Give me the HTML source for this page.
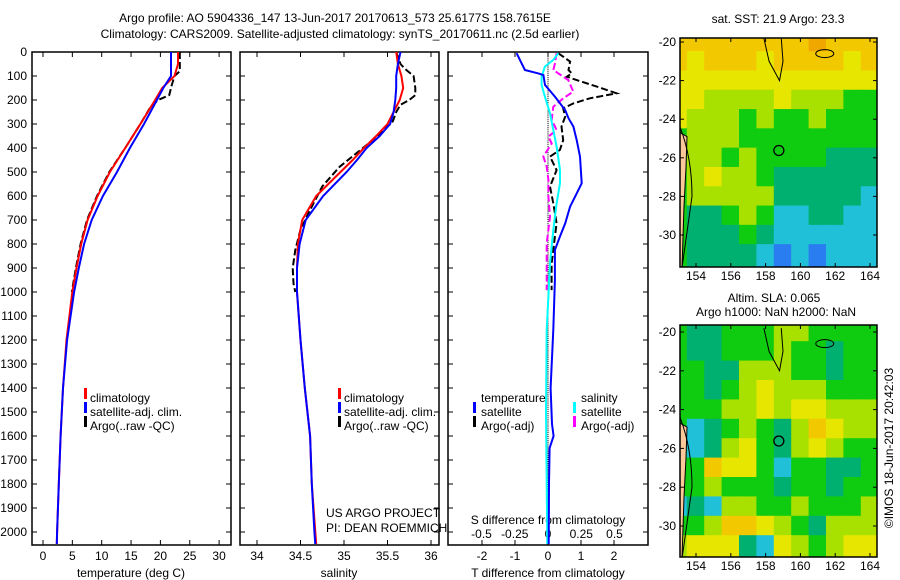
<!DOCTYPE html>
<html><head><meta charset="utf-8"><style>
body{margin:0;background:#fff;}
svg{display:block;font-family:"Liberation Sans",sans-serif;font-size:12px;}
</style></head><body>
<svg id="c" width="900" height="580" viewBox="0 0 900 580" xmlns="http://www.w3.org/2000/svg">
<text x="335" y="22" text-anchor="middle">Argo profile: AO 5904336_147 13-Jun-2017 20170613_573 25.6177S 158.7615E</text>
<text x="340" y="38" text-anchor="middle">Climatology: CARS2009. Satellite-adjusted climatology: synTS_20170611.nc (2.5d earlier)</text>
<g id="g"></g>
</svg>
<script>
// ---- profile data (depth in dbar) ----
const tDepth=[0,50,100,150,200,300,400,500,600,700,800,900,1000,1200,1400,1600,1800,2000,2050];
const tClim=[23,23,22.4,20.3,19.1,16.6,14,11.4,9.3,7.6,6.5,5.7,5.0,4.0,3.4,3,2.7,2.4,2.35];
const tSat=[21.8,21.8,21.8,20.5,19.4,17.2,14.8,12.6,10.2,8.3,7.0,6.1,5.3,4.1,3.4,3,2.7,2.4,2.35];
const tArgoDepth=[0,50,80,100,140,180,200,230,300,400,500,600,700,800,900,1000];
const tArgo=[23.3,23.3,23.3,22.4,21.9,21.5,19.6,18.3,16.6,14,11.3,9.2,7.5,6.4,5.6,4.9];
const sDepth=[0,50,100,150,200,250,300,350,400,450,500,600,700,800,900,1000,1200,1400,1600,1800,2000,2050];
const sClim=[35.6,35.62,35.66,35.68,35.64,35.57,35.5,35.37,35.23,35.1,34.96,34.68,34.52,34.47,34.46,34.46,34.5,34.55,34.61,34.63,34.67,34.68];
const sSat=[35.65,35.62,35.6,35.6,35.59,35.57,35.53,35.41,35.26,35.15,35.03,34.76,34.56,34.49,34.46,34.46,34.5,34.55,34.61,34.63,34.66,34.67];
const sArgoDepth=[0,50,70,100,150,180,200,220,250,290,367,478,560,658,740,825,900,964,1000];
const sArgo=[35.6,35.65,35.7,35.8,35.82,35.82,35.75,35.65,35.6,35.56,35.33,34.95,34.75,34.61,34.5,34.44,34.41,34.42,34.44];
const dTDepth=[5,47,75,89,96,137,186,242,276,311,367,436,547,589,644,714,769,825,950,1158,1400,1550,1600,1650,1800,2050];
const dTSat=[-0.95,-0.8,-0.7,-0.29,-0.14,-0.09,0.21,0.52,0.62,0.77,0.87,0.97,1.02,0.87,0.67,0.52,0.36,0.21,0.21,0.16,0.08,0.12,0.17,0.05,0.03,0.02];
const dSDepth=[5,33,61,103,137,186,255,325,394,492,547,631,742,881,1019,1158,1500,2050];
const dSSat=[0.078,0.04,-0.023,-0.048,-0.048,-0.023,0.015,0.04,0.065,0.09,0.09,0.065,0.04,0.015,0.003,-0.01,-0.015,-0.005];
const dTArgoDepth=[5,40,75,89,103,117,144,172,193,214,235,269,311,367,408,436,492,561,631,714,769,825,881,992];
const dTArgo=[0.31,0.67,0.62,0.72,0.57,0.87,1.48,2.08,1.27,0.77,0.46,0.52,0.41,0.46,0.36,0.06,0.26,0.06,0.16,0.26,0.21,0.16,0.11,0.11];
const dSArgoDepth=[5,47,75,89,117,165,193,228,283,325,353,381,436,478,533,603,686,797,881,992];
const dSArgo=[0.065,0.053,0.04,0.078,0.153,0.19,0.115,0.04,0.028,0.065,0.003,0.028,-0.035,-0.01,0.003,0.003,0.015,-0.01,-0.01,-0.01];
const depthTicks=[0,100,200,300,400,500,600,700,800,900,1000,1100,1200,1300,1400,1500,1600,1700,1800,1900,2000];
const tTicks=[0,5,10,15,20,25,30];
const sTicks=[34,34.5,35,35.5,36];
const dTTicks=[-2,-1,0,1,2];
const dSTicks=[-0.5,-0.25,0,0.25,0.5];
const dSTickLabels=["-0.5","-0.25","0","0.25","0.5"];
// ---- map data: rows lat -20..-31, cols lon 153..164 (colour class 0-7) ----
const mapLats=[-20,-21,-22,-23,-24,-25,-26,-27,-28,-29,-30,-31];
const mapLons=[153,154,155,156,157,158,159,160,161,162,163,164];
const sstGrid=[
[6,6,6,6,6,6,6,6,7,6,6,6],[6,5,6,6,6,5,6,6,6,6,5,6],[5,5,5,5,5,5,5,5,5,5,5,5],[5,5,4,4,4,4,5,4,4,4,3,3],
[5,4,4,4,3,4,3,3,4,3,3,3],[3,4,4,4,3,3,3,3,3,3,3,3],[3,4,4,3,4,3,3,3,3,2,2,2],[3,4,5,4,4,3,2,2,2,2,2,2],
[3,4,4,4,4,4,2,2,2,2,2,1],[3,2,2,3,4,3,1,1,2,2,1,1],[3,2,2,2,3,2,1,1,1,1,1,1],[3,2,2,2,2,1,0,1,0,1,1,1]];
const slaGrid=[
[3,2,2,3,3,3,4,4,3,3,3,3],[3,2,2,3,3,3,4,3,3,2,3,3],[3,3,2,2,4,4,4,3,3,2,3,3],[3,3,2,3,4,5,4,4,4,3,3,3],
[3,3,3,4,4,5,4,5,5,4,4,4],[3,1,2,3,4,3,2,4,6,5,4,4],[3,1,2,4,5,3,2,4,5,4,3,3],[3,3,6,5,5,3,1,3,3,2,2,3],
[3,3,4,3,3,3,2,3,3,2,3,3],[1,2,1,4,4,3,3,4,3,3,3,4],[3,3,4,6,6,5,4,3,2,4,4,4],[4,5,5,5,2,1,5,4,3,4,5,5]];
const palette=["#2a7df0","#20c0d8","#00b070","#10cc10","#a8e000","#e6e600","#f2c800","#f0a800"];
const argoLon=158.76, argoLat=-25.62;
const mapLonTicks=[154,156,158,160,162,164];
const mapLatTicks=[-20,-22,-24,-26,-28,-30];

const NS="http://www.w3.org/2000/svg";
const G=document.getElementById('g');
function mk(t,a,p){const e=document.createElementNS(NS,t);for(const k in a)e.setAttribute(k,a[k]);(p||G).appendChild(e);return e;}
const yD=d=>52+d*0.24;
const P1={x0:32,x1:231}, P2={x0:240,x1:439}, P3={x0:448,x1:648};
const xT=v=>43+v*5.87, xS=v=>257+(v-34)*87, xDT=v=>548+v*33, xDS=v=>548+v*133;
function line(xs,ds,fx,col,dash,name){
  let d='';for(let i=0;i<xs.length;i++)d+=(i?'L':'M')+fx(xs[i]).toFixed(1)+','+yD(ds[i]).toFixed(1);
  const e=mk('path',{d:d,fill:'none',stroke:col,'stroke-width':2});
  if(dash)e.setAttribute('stroke-dasharray','7,3');
  
  
}
function frame(P,name){
  const r=mk('rect',{x:P.x0,y:52,width:P.x1-P.x0,height:493,fill:'none',stroke:'#000','stroke-width':1.5});
  
  
  depthTicks.forEach(d=>{mk('line',{x1:P.x0,x2:P.x0+5,y1:yD(d),y2:yD(d),stroke:'#000'});mk('line',{x1:P.x1,x2:P.x1-5,y1:yD(d),y2:yD(d),stroke:'#000'});});
}
function xticks(vals,labs,fx,name){
  vals.forEach((v,i)=>{const x=fx(v);
    mk('line',{x1:x,x2:x,y1:545,y2:540,stroke:'#000'});mk('line',{x1:x,x2:x,y1:52,y2:57,stroke:'#000'});
    const t=mk('text',{x:x,y:560,'text-anchor':'middle'});t.textContent=labs[i];
    
    });
}
function txt(x,y,s,name,anchor){const t=mk('text',{x:x,y:y,'text-anchor':anchor||'start'});t.textContent=s;
  
  return t;}
function legMark(x,y,col){mk('rect',{x:x,y:y-10,width:3,height:11,fill:col});}

// panel 1
frame(P1,'temperature-panel');
depthTicks.forEach(d=>{txt(27,yD(d)+4,String(d),'depth-tick-label','end');});
xticks(tTicks,tTicks.map(String),xT,'temperature-tick-label');
txt(131,577,'temperature (deg C)','temperature-axis-title','middle');
line(tArgo,tArgoDepth,xT,'#000',true,'temperature-argo-line');
line(tClim,tDepth,xT,'#f00',false,'temperature-climatology-line');
line(tSat,tDepth,xT,'#00f',false,'temperature-satellite-line');
legMark(84,398,'#f00');txt(90,402,'climatology','legend-climatology');
legMark(84,412,'#00f');txt(90,416,'satellite-adj. clim.','legend-satellite');
legMark(84,426,'#000');txt(90,430,'Argo(..raw -QC)','legend-argo');

// panel 2
frame(P2,'salinity-panel');
xticks(sTicks,sTicks.map(String),xS,'salinity-tick-label');
txt(339,577,'salinity','salinity-axis-title','middle');
line(sArgo,sArgoDepth,xS,'#000',true,'salinity-argo-line');
line(sClim,sDepth,xS,'#f00',false,'salinity-climatology-line');
line(sSat,sDepth,xS,'#00f',false,'salinity-satellite-line');
legMark(338,398,'#f00');txt(344,402,'climatology','legend-climatology');
legMark(338,412,'#00f');txt(344,416,'satellite-adj. clim.','legend-satellite');
legMark(338,426,'#000');txt(344,430,'Argo(..raw -QC)','legend-argo');
txt(326,517,'US ARGO PROJECT','credit-project');
txt(326,532,'PI: DEAN ROEMMICH','credit-pi');

// panel 3
frame(P3,'difference-panel');
xticks(dTTicks,dTTicks.map(String),xDT,'t-diff-tick-label');
dSTicks.forEach((v,i)=>{txt(xDS(v),538,dSTickLabels[i],'s-diff-tick-label','middle');});
txt(548,524,'S difference from climatology','s-diff-axis-title','middle');
txt(548,577,'T difference from climatology','t-diff-axis-title','middle');
for(let d=0;d<2050;d+=8)mk('line',{x1:548,x2:548,y1:yD(d),y2:yD(d)+1,stroke:'#000'});
line(dTArgo,dTArgoDepth,xDT,'#000',true,'t-diff-argo-line');
line(dSArgo,dSArgoDepth,xDS,'#f0f',true,'s-diff-argo-line');
line(dSSat,dSDepth,xDS,'#0ff',false,'s-diff-satellite-line');
line(dTSat,dTDepth,xDT,'#00f',false,'t-diff-satellite-line');
txt(481,402,'temperature','legend-temperature-header');
legMark(473,412,'#00f');txt(481,416,'satellite','legend-t-satellite');
legMark(473,426,'#000');txt(481,430,'Argo(-adj)','legend-t-argo');
txt(581,402,'salinity','legend-salinity-header');
legMark(573,412,'#0ff');txt(581,416,'satellite','legend-s-satellite');
legMark(573,426,'#f0f');txt(581,430,'Argo(-adj)','legend-s-argo');

// maps
function map(y0,y1,latTop,latStep,grid,name){
  const x0=680,x1=877;
  const fx=l=>696+(l-154)*17.4, fy=l=>latTop+(-20-l)*latStep;
  const g=mk('g',{});
  const clip=mk('clipPath',{id:name+'-clip'});mk('rect',{x:x0,y:y0,width:x1-x0,height:y1-y0},clip);
  const cg=mk('g',{'clip-path':'url(#'+name+'-clip)'},g);
  grid.forEach((row,ri)=>row.forEach((c,ci)=>{
    const lat=mapLats[ri],lon=mapLons[ci];
    const r=mk('rect',{x:fx(lon-0.5)-0.5,y:fy(lat+0.5)-0.5,width:18.4,height:latStep+(ri===grid.length-1?8:1),fill:palette[c]},cg);
    
    
  }));
  mk('path',{d:`M${x0},${fy(-24.7)} L${x0+7},${fy(-24.9)} L${x0+6},${fy(-26.5)} L${x0+4},${fy(-28.5)} L${x0+2},${fy(-31.7)} L${x0},${fy(-31.7)}Z`,fill:'#fbc89a',stroke:'#000','stroke-width':1},cg);
  mk('path',{d:`M${x0},${fy(-24.4)} Q${x0+12},${fy(-26)} ${x0+12},${fy(-28)} L${x0+2},${fy(-31.7)}`,fill:'none',stroke:'#000','stroke-width':1},cg);
  mk('path',{d:`M${fx(157.9)},${fy(-19.8)} L${fx(158.2)},${fy(-21)} L${fx(158.8)},${fy(-22)} L${fx(159)},${fy(-21)} L${fx(158.9)},${fy(-19.8)}`,fill:'none',stroke:'#000','stroke-width':1},cg);
  mk('ellipse',{cx:fx(161.4),cy:fy(-20.6),rx:9,ry:4,fill:'none',stroke:'#000'},cg);
  const c=mk('circle',{cx:fx(argoLon),cy:fy(argoLat),r:5,fill:'none',stroke:'#000','stroke-width':1.3},g);
  
  
  mk('rect',{x:x0,y:y0,width:x1-x0,height:y1-y0,fill:'none',stroke:'#000','stroke-width':1.5},g);
  mapLonTicks.forEach(l=>{mk('line',{x1:fx(l),x2:fx(l),y1:y1,y2:y1-4,stroke:'#000'},g);mk('line',{x1:fx(l),x2:fx(l),y1:y0,y2:y0+4,stroke:'#000'},g);
    txt(fx(l),y1+13,String(l),'map-lon-tick-label','middle');});
  mapLatTicks.forEach(l=>{mk('line',{x1:x0,x2:x0+4,y1:fy(l),y2:fy(l),stroke:'#000'},g);mk('line',{x1:x1,x2:x1-4,y1:fy(l),y2:fy(l),stroke:'#000'},g);
    txt(676,fy(l)+4,String(l),'map-lat-tick-label','end');});
}
map(38,267,42,19.3,sstGrid,'sst-map');
map(325,557,332,19.4,slaGrid,'sla-map');
txt(778,23,'sat. SST: 21.9 Argo: 23.3','sst-map-title','middle');
txt(774,302,'Altim. SLA: 0.065','sla-map-title','middle');
txt(776,316,'Argo h1000: NaN h2000: NaN','sla-map-subtitle','middle');
const cr=txt(0,0,'©IMOS 18-Jun-2017 20:42:03','timestamp-credit','middle');
cr.setAttribute('transform','translate(893,448) rotate(-90)');
</script>
</body></html>
